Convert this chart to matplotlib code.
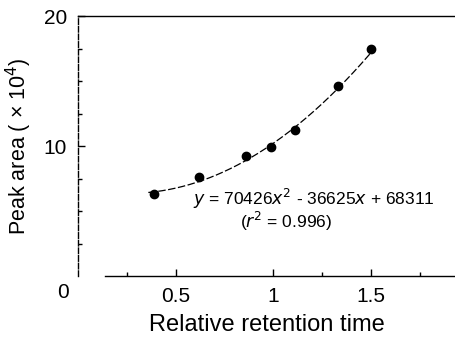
import numpy as np
import matplotlib
matplotlib.use("Agg")
import matplotlib.pyplot as plt
from matplotlib.ticker import FixedLocator

plt.rcParams['font.family'] = ['Liberation Sans', 'DejaVu Sans']

# Data (peak area in units of 10^4)
rel_time = [0.39, 0.62, 0.86, 0.99, 1.11, 1.33, 1.50]
peak_area = [6.3, 7.6, 9.2, 9.95, 11.2, 14.6, 17.5]
# Fit coefficients (y = a x^2 + b x + c, raw units)
fit_coef = [70426, -36625, 68311]
fit_range = [0.36, 1.52]

fig = plt.figure(figsize=(4.55, 3.37), dpi=100)
ax = fig.add_axes([78/455, 1-276/337, 1-78/455, (276-16)/337])

ax.plot(rel_time, peak_area, 'o', color='black', markersize=6, zorder=3)
xf = np.linspace(fit_range[0], fit_range[1], 200)
yf = np.polyval(fit_coef, xf) / 1e4
ax.plot(xf, yf, color='black', linewidth=0.9, linestyle=(0, (6, 2)))

ax.set_xlim(0, 1.93)
ax.set_ylim(0, 20)

ax.spines['right'].set_visible(False)
ax.spines['bottom'].set_bounds(0.14, 1.93)
ax.spines['left'].set_linestyle((0, (4, 1.5)))
for s in ['left', 'bottom', 'top']:
    ax.spines[s].set_linewidth(1.0)

ax.xaxis.set_major_locator(FixedLocator([0.5, 1.0, 1.5]))
ax.set_xticklabels(['0.5', '1', '1.5'])
ax.xaxis.set_minor_locator(FixedLocator([0.25, 1.25, 1.75]))
ax.yaxis.set_major_locator(FixedLocator([10, 20]))
ax.yaxis.set_minor_locator(FixedLocator([2.5, 5, 7.5, 12.5, 15, 17.5]))

ax.tick_params(axis='both', which='both', direction='in', top=False, right=False)
ax.tick_params(axis='both', which='major', length=5, width=1.0, labelsize=15, pad=8)
ax.tick_params(axis='both', which='minor', length=3, width=1.0)

ax.set_xlabel('Relative retention time', fontsize=17, labelpad=6)
ax.set_ylabel('Peak area ( × 10$^4$)', fontsize=15.5, labelpad=7)

fig.text(63/455, 1-292/337, '0', fontsize=15, ha='center', va='center')

ax.text(0.305, 0.295, r'$y$ = 70426$x^2$ - 36625$x$ + 68311', transform=ax.transAxes,
        fontsize=12.5, ha='left', va='center')
ax.text(0.43, 0.21, r'($r^2$ = 0.996)', transform=ax.transAxes,
        fontsize=12.5, ha='left', va='center')

fig.savefig('out.png', dpi=100)
